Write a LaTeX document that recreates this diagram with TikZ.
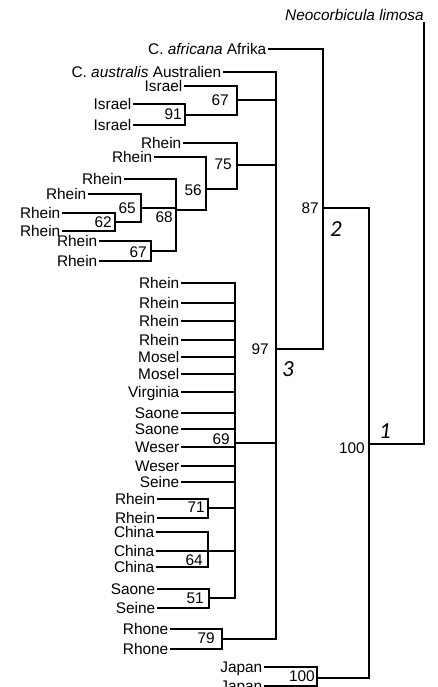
\documentclass[tikz,border=0pt]{standalone}
\usepackage{fontspec}
\setmainfont{Liberation Sans}
\newfontfamily\numfont{Carlito}
\tikzset{
  lf/.style={anchor=east, inner xsep=1.5pt, inner ysep=0pt, text height=11pt, text depth=0pt, font=\fontsize{15.4}{18}\selectfont},
  bs/.style={anchor=east, inner sep=0pt, text height=11pt, text depth=0pt, font=\fontsize{15.4}{18}\selectfont},
  cl/.style={font=\numfont\itshape\fontsize{23}{26}\selectfont, inner sep=0pt},
  br/.style={line width=2pt, line join=miter}
}
\begin{document}
\begin{tikzpicture}[x=1pt,y=-1pt]
\useasboundingbox (0,0) rectangle (437,687);
% internal nodes
\coordinate (root) at (424,444);
\coordinate (n1) at (369,444);
\coordinate (n2) at (323,208);
\coordinate (n3) at (276,349);
\coordinate (nJ) at (317,678);
\coordinate (n67i) at (237,100);
\coordinate (n91) at (185,115);
\coordinate (n75) at (237,165);
\coordinate (n56) at (206,189);
\coordinate (n68) at (176,210);
\coordinate (n65) at (141,208);
\coordinate (n62) at (115,222);
\coordinate (n67r) at (151,251);
\coordinate (n69) at (235,443);
\coordinate (n71) at (208,508);
\coordinate (n64) at (208,551);
\coordinate (n51) at (209,598);
\coordinate (n79) at (222,639);
% leaves
\node[lf, anchor=south east, inner sep=0pt] (neo) at (424,20.5) {\textit{Neocorbicula limosa}};
\node[lf] (afr) at (268,49) {C. \textit{africana} Afrika};
\node[lf] (aus) at (223,72) {C. \textit{australis} Australien};
\node[lf] (i1) at (184,86) {Israel};
\node[lf] (i2) at (133,104) {Israel};
\node[lf] (i3) at (133,125) {Israel};
\node[lf] (r1) at (183,143) {Rhein};
\node[lf] (r2) at (154,157) {Rhein};
\node[lf] (r3) at (124,179) {Rhein};
\node[lf] (r4) at (88,194) {Rhein};
\node[lf] (r5) at (62,213) {Rhein};
\node[lf] (r6) at (62,231) {Rhein};
\node[lf] (r7) at (99,241) {Rhein};
\node[lf] (r8) at (99,261) {Rhein};
\node[lf] (p1) at (181,283) {Rhein};
\node[lf] (p2) at (181,303) {Rhein};
\node[lf] (p3) at (181,321) {Rhein};
\node[lf] (p4) at (181,340) {Rhein};
\node[lf] (p5) at (181,357) {Mosel};
\node[lf] (p6) at (181,374) {Mosel};
\node[lf] (p7) at (181,392) {Virginia};
\node[lf] (p8) at (181,413) {Saone};
\node[lf] (p9) at (181,429) {Saone};
\node[lf] (p10) at (181,447) {Weser};
\node[lf] (p11) at (181,466) {Weser};
\node[lf] (p12) at (181,482) {Seine};
\node[lf] (q1) at (157,499) {Rhein};
\node[lf] (q2) at (157,518) {Rhein};
\node[lf] (c1) at (156,532) {China};
\node[lf] (c2) at (156,551) {China};
\node[lf] (c3) at (156,567) {China};
\node[lf] (s1) at (157,589) {Saone};
\node[lf] (s2) at (157,608) {Seine};
\node[lf] (rh1) at (170,629) {Rhone};
\node[lf] (rh2) at (170,649) {Rhone};
\node[lf] (j1) at (264,667) {Japan};
\node[lf] (j2) at (264,686) {Japan};
% bootstrap values
\node[bs] (b91) at (182,114) {91};
\node[bs] (b67i) at (229,100) {67};
\node[bs] (b75) at (232,164) {75};
\node[bs] (b56) at (202,190) {56};
\node[bs] (b68) at (173,217) {68};
\node[bs] (b65) at (136,208) {65};
\node[bs] (b62) at (112,222) {62};
\node[bs] (b67r) at (147,252) {67};
\node[bs] (b69) at (230,439) {69};
\node[bs] (b71) at (205,507) {71};
\node[bs] (b64) at (203,560) {64};
\node[bs] (b51) at (204,598) {51};
\node[bs] (b79) at (215,638) {79};
\node[bs] (b100j) at (315,676) {100};
\node[bs] (b97) at (269,349) {97};
\node[bs] (b87) at (319,208) {87};
\node[bs] (b100) at (365,448) {100};
% clade numbers
\node[cl] (k1) at (385,431) {1};
\node[cl] (k2) at (336,229) {2};
\node[cl] (k3) at (288,369) {3};
% branches
\begin{scope}[br]
\draw ([yshift=-1.5pt]neo.south -| root) -- (root) -- (n1);
\draw (n2) -| (n1) |- (nJ);
\draw (j1.east) -| (nJ) |- (j2.east);
\draw (afr.east) -| (n2) |- (n3);
\draw (aus.east) -| (n3) |- (n79);
\draw (n67i) -- (n67i -| n3);
\draw (n75) -- (n75 -| n3);
\draw (n69) -- (n69 -| n3);
\draw (i1.east) -| (n67i) |- (n91);
\draw (i2.east) -| (n91) |- (i3.east);
\draw (r1.east) -| (n75) |- (n56);
\draw (r2.east) -| (n56) |- (n68);
\draw (r3.east) -| (n68) |- (n67r);
\draw (n65) -- (n65 -| n68);
\draw (r4.east) -| (n65) |- (n62);
\draw (r5.east) -| (n62) |- (r6.east);
\draw (r7.east) -| (n67r) |- (r8.east);
\draw (p1.east) -| (n69) |- (n51);
\foreach \p in {p2,p3,p4,p5,p6,p7,p8,p9,p10,p11,p12}
  \draw (\p.east) -- (\p.east -| n69);
\draw (n71) -- (n71 -| n69);
\draw (q1.east) -| (n71) |- (q2.east);
\draw (c1.east) -| (n64) |- (c3.east);
\draw (c2.east) -- (n64) -- (n64 -| n69);
\draw (s1.east) -| (n51) |- (s2.east);
\draw (rh1.east) -| (n79) |- (rh2.east);
\end{scope}
\end{tikzpicture}
\end{document}
